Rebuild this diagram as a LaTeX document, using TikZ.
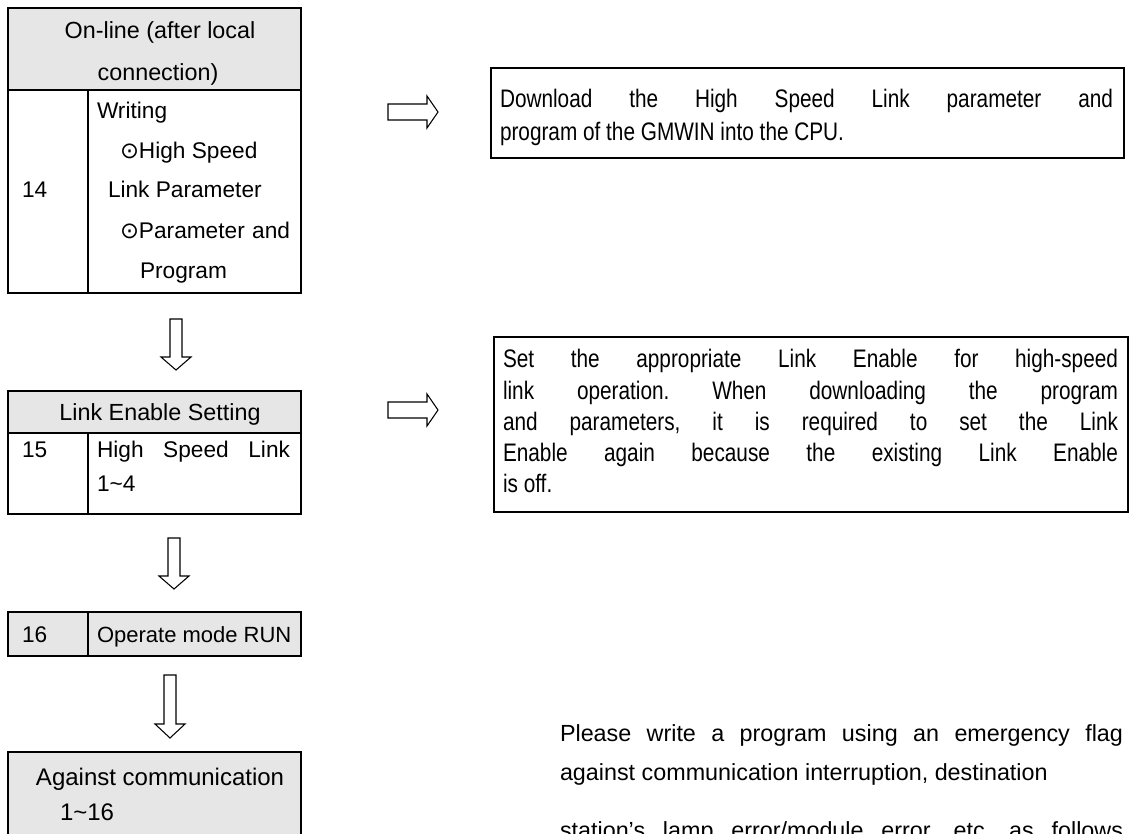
\documentclass[tikz,border=0pt]{standalone}
\usepackage{fontspec}
\setmainfont{Liberation Sans}
\newfontfamily\narrowfont[FakeStretch=0.82]{Liberation Sans}
\newfontfamily\symfont{DejaVu Sans}
\newcommand\mainfs{\fontsize{17.5}{21}\selectfont\frenchspacing}
\newcommand\bodyfs{\fontsize{17}{21}\selectfont\frenchspacing}
\newcommand\smallbodyfs{\fontsize{16.5}{21}\selectfont\frenchspacing}
\newcommand\bigfs{\fontsize{18}{21}\selectfont\frenchspacing}
\newcommand\narrowfs{\narrowfont\fontsize{19}{23}\selectfont\frenchspacing}
\newcommand\circdot{{\symfont ⊙}}
\definecolor{hdrgray}{RGB}{230,230,230}
\begin{document}
\begin{tikzpicture}[x=0.75pt,y=-0.75pt,
  every node/.style={inner sep=0pt, outer sep=0pt},
  txt/.style={font=\mainfs, anchor=base west},
  btxt/.style={font=\bodyfs, anchor=base west},
  rtxt/.style={font=\bodyfs, anchor=base east},
  ctxt/.style={font=\mainfs, anchor=base},
  gtxt/.style={font=\bigfs, anchor=base west},
  ntxt/.style={font=\narrowfs, anchor=base west},
  frame/.style={draw=black, line width=1.5pt},
  divider/.style={draw=black, line width=1.2pt},
  blockarrow/.style={draw=black, line width=0.8pt, fill=white, line join=miter}]
\useasboundingbox (0,0) rectangle (1134,833);
\fill[white] (0,0) rectangle (1134,833);

% ---- Box 1
\fill[hdrgray] (8,8) rectangle (301,90);
\draw[frame] (8,8) rectangle (301,293);
\draw[divider] (8,90) -- (301,90);
\draw[divider] (88,90) -- (88,293);
\node[ctxt] (h1a) at (160,38) {On-line (after local};
\node[ctxt] (h1b) at (158,80) {connection)};
\node[btxt] (n14) at (22,197) {14};
\node[btxt] (w1) at (97,118) {Writing};
\node[btxt] (w2) at (120,158) {\circdot High Speed};
\node[btxt] (w3) at (108,197) {Link Parameter};
\node[btxt] (w4) at (120,238) {\circdot Parameter};
\node[rtxt] (w4b) at (290,238) {and};
\node[btxt] (w5) at (140,278) {Program};

% ---- Box 2
\fill[hdrgray] (8,391) rectangle (301,433);
\draw[frame] (8,391) rectangle (301,514);
\draw[divider] (8,433) -- (301,433);
\draw[divider] (88,433) -- (88,514);
\node[ctxt] (h2) at (160,420) {Link Enable Setting};
\node[btxt] (n15) at (22,457) {15};
\node[btxt] (l2a) at (97,457) {\makebox[144.75pt][s]{High Speed Link}};
\node[btxt] (l2b) at (97,491) {1\textasciitilde 4};

% ---- Box 3
\fill[hdrgray] (8,612) rectangle (301,656);
\draw[frame] (8,612) rectangle (301,656);
\draw[divider] (88,612) -- (88,656);
\node[btxt] (n16) at (22,642) {16};
\node[font=\smallbodyfs, anchor=base west] (op) at (97,642) {Operate mode RUN};

% ---- Box 4
\fill[hdrgray] (8,752) rectangle (301,840);
\draw[frame] (8,840) -- (8,752) -- (301,752) -- (301,840);
\node[gtxt] (ag1) at (36,785) {Against communication};
\node[gtxt] (ag2) at (60,820) {1\textasciitilde 16};

% ---- down arrows
\draw[blockarrow] (170,319) -- (182,319) -- (182,357) -- (191,357) -- (176,370) -- (161,357) -- (170,357) -- cycle;
\draw[blockarrow] (168,538) -- (180,538) -- (180,576) -- (189,576) -- (174,589) -- (159,576) -- (168,576) -- cycle;
\draw[blockarrow] (164,675) -- (176,675) -- (176,724) -- (185,724) -- (170,738) -- (155,724) -- (164,724) -- cycle;

% ---- right arrows
\draw[blockarrow] (388,104) -- (427,104) -- (427,96) -- (438,112) -- (427,128) -- (427,120) -- (388,120) -- cycle;
\draw[blockarrow] (388,402) -- (427,402) -- (427,394) -- (438,410) -- (427,426) -- (427,418) -- (388,418) -- cycle;

% ---- Text box 1
\draw[frame] (491,68) rectangle (1124,158);
\node[ntxt] (t1a) at (500,107) {\makebox[459.75pt][s]{Download the High Speed Link parameter and}};
\node[ntxt] (t1b) at (500,140) {program of the GMWIN into the CPU.};

% ---- Text box 2
\draw[frame] (494,337) rectangle (1128,512);
\node[ntxt] (t2a) at (503,367) {\makebox[461.25pt][s]{Set the appropriate Link Enable for high-speed}};
\node[ntxt] (t2b) at (503,399) {\makebox[461.25pt][s]{link operation. When downloading the program}};
\node[ntxt] (t2c) at (503,430) {\makebox[461.25pt][s]{and parameters, it is required to set the Link}};
\node[ntxt] (t2d) at (503,461) {\makebox[461.25pt][s]{Enable again because the existing Link Enable}};
\node[ntxt] (t2e) at (503,492) {is off.};

% ---- bottom text
\node[txt] (b1) at (560,741) {\makebox[422.25pt][s]{Please write a program using an emergency flag}};
\node[txt] (b2) at (560,780) {against communication interruption, destination};
\node[txt] (b3) at (560,838) {\makebox[422.25pt][s]{station's lamp error/module error, etc. as follows}};
\end{tikzpicture}
\end{document}
